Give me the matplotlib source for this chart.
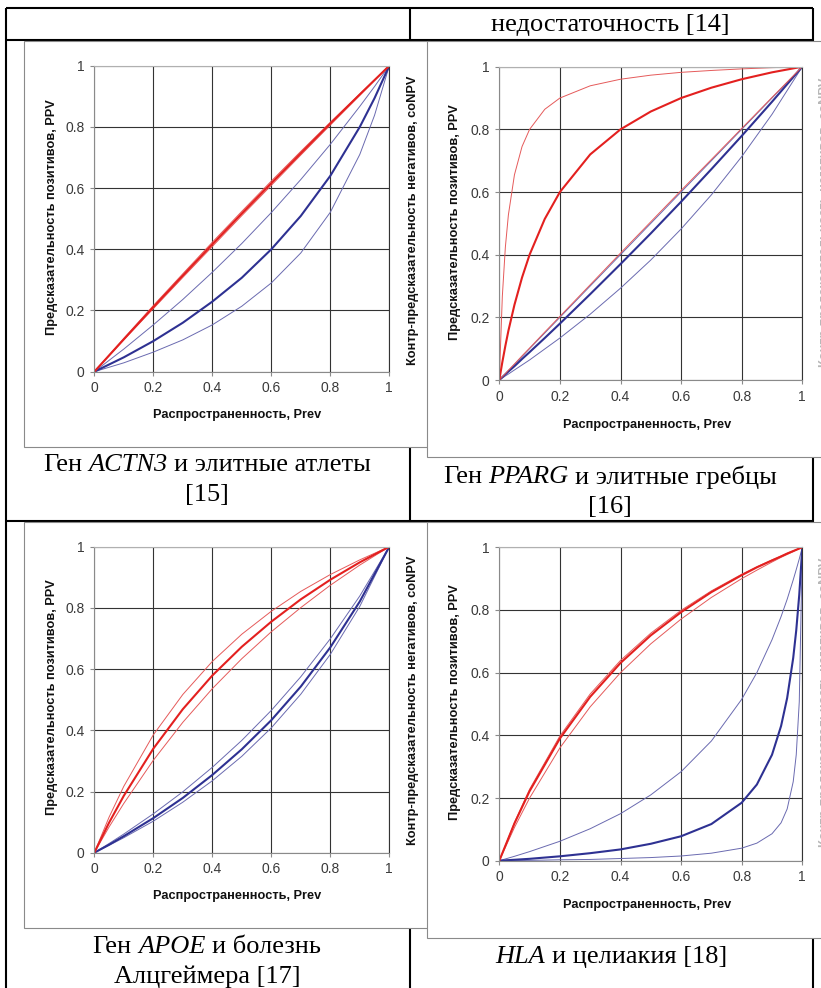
import matplotlib.pyplot as plt
from matplotlib.patches import Rectangle

plt.rcParams['font.family'] = ['Liberation Sans', 'DejaVu Sans']

W, H = 821, 988

###############
# Data (prevalence -> PPV / coNPV)
ticks = [0, 0.2, 0.4, 0.6, 0.8, 1]
tick_labels = ['0', '0.2', '0.4', '0.6', '0.8', '1']

# ACTN3
prev1 = [0, 0.1, 0.2, 0.3, 0.4, 0.5, 0.6, 0.7, 0.8, 0.9, 0.95, 1]
actn3_ppv = [0, 0.106, 0.211, 0.314, 0.416, 0.517, 0.616, 0.714, 0.811, 0.906, 0.953, 1]
actn3_ppv_lo = [0, 0.104, 0.206, 0.308, 0.409, 0.510, 0.609, 0.708, 0.806, 0.903, 0.952, 1]
actn3_ppv_hi = [0, 0.109, 0.216, 0.320, 0.423, 0.524, 0.623, 0.720, 0.815, 0.908, 0.954, 1]
actn3_conpv = [0, 0.047, 0.100, 0.160, 0.229, 0.307, 0.400, 0.509, 0.640, 0.800, 0.894, 1]
actn3_conpv_hi = [0, 0.074, 0.153, 0.236, 0.325, 0.419, 0.520, 0.628, 0.743, 0.867, 0.932, 1]
actn3_conpv_lo = [0, 0.029, 0.064, 0.104, 0.153, 0.214, 0.290, 0.388, 0.521, 0.710, 0.838, 1]

# PPARG
prev2 = [0, 0.01, 0.02, 0.03, 0.05, 0.075, 0.1, 0.15, 0.2, 0.3, 0.4, 0.5, 0.6, 0.7, 0.8, 0.9, 1]
pparg_ppv = [0, 0.057, 0.109, 0.157, 0.240, 0.327, 0.400, 0.514, 0.600, 0.720, 0.800, 0.857, 0.900, 0.933, 0.960, 0.982, 1]
pparg_ppv_hi = [0, 0.267, 0.424, 0.527, 0.655, 0.745, 0.800, 0.864, 0.900, 0.939, 0.960, 0.973, 0.982, 0.988, 0.993, 0.997, 1]
pparg_ppv_lo = [0, 0.010, 0.020, 0.031, 0.051, 0.077, 0.102, 0.153, 0.203, 0.304, 0.405, 0.505, 0.605, 0.704, 0.803, 0.902, 1]
pparg_conpv = [0, 0.009, 0.018, 0.027, 0.044, 0.067, 0.089, 0.134, 0.180, 0.274, 0.370, 0.468, 0.569, 0.673, 0.779, 0.888, 1]
pparg_conpv_hi = [0, 0.010, 0.020, 0.030, 0.050, 0.075, 0.100, 0.150, 0.200, 0.300, 0.400, 0.500, 0.600, 0.700, 0.800, 0.900, 1]
pparg_conpv_lo = [0, 0.006, 0.013, 0.019, 0.032, 0.048, 0.064, 0.099, 0.134, 0.210, 0.293, 0.383, 0.482, 0.591, 0.713, 0.848, 1]

# APOE
prev3 = [0, 0.05, 0.1, 0.2, 0.3, 0.4, 0.5, 0.6, 0.7, 0.8, 0.9, 1]
apoe_ppv = [0, 0.098, 0.186, 0.340, 0.469, 0.579, 0.673, 0.755, 0.828, 0.892, 0.949, 1]
apoe_ppv_hi = [0, 0.116, 0.217, 0.385, 0.517, 0.625, 0.714, 0.789, 0.854, 0.909, 0.957, 1]
apoe_ppv_lo = [0, 0.084, 0.161, 0.302, 0.426, 0.536, 0.634, 0.722, 0.801, 0.874, 0.940, 1]
apoe_conpv = [0, 0.026, 0.054, 0.113, 0.179, 0.254, 0.338, 0.433, 0.543, 0.671, 0.821, 1]
apoe_conpv_hi = [0, 0.030, 0.061, 0.127, 0.199, 0.279, 0.367, 0.465, 0.575, 0.699, 0.839, 1]
apoe_conpv_lo = [0, 0.024, 0.049, 0.103, 0.165, 0.235, 0.315, 0.408, 0.518, 0.648, 0.805, 1]

# HLA
prev4 = [0, 0.05, 0.1, 0.2, 0.3, 0.4, 0.5, 0.6, 0.7, 0.8, 0.85, 0.9, 0.93, 0.95, 0.97, 0.98, 0.99, 1]
hla_ppv = [0, 0.119, 0.222, 0.390, 0.523, 0.631, 0.719, 0.793, 0.857, 0.911, 0.936, 0.958, 0.971, 0.980, 0.988, 0.992, 0.996, 1]
hla_ppv_hi = [0, 0.122, 0.228, 0.398, 0.532, 0.639, 0.726, 0.799, 0.861, 0.914, 0.938, 0.960, 0.972, 0.981, 0.989, 0.992, 0.996, 1]
hla_ppv_lo = [0, 0.106, 0.200, 0.360, 0.491, 0.600, 0.692, 0.771, 0.840, 0.900, 0.927, 0.953, 0.968, 0.977, 0.986, 0.991, 0.996, 1]
hla_conpv = [0, 0.003, 0.006, 0.014, 0.024, 0.036, 0.054, 0.078, 0.117, 0.185, 0.243, 0.338, 0.430, 0.519, 0.647, 0.735, 0.849, 1]
hla_conpv_hi = [0, 0.014, 0.029, 0.062, 0.102, 0.150, 0.210, 0.284, 0.382, 0.515, 0.600, 0.705, 0.779, 0.834, 0.896, 0.929, 0.963, 1]
hla_conpv_lo = [0, 0.0005, 0.001, 0.003, 0.004, 0.007, 0.010, 0.015, 0.024, 0.040, 0.056, 0.086, 0.121, 0.165, 0.252, 0.338, 0.507, 1]

ylab = 'Предсказательность позитивов, PPV'
xlab = 'Распространенность, Prev'
ylab2 = 'Контр-предсказательность негативов, coNPV'

RED, RED_T = '#e3201f', '#e55a5a'
BLUE, BLUE_T = '#2e3192', '#6a6ab0'

###############
fig = plt.figure(figsize=(W / 100, H / 100), dpi=100)

# background in pixel coords: table lines, chart frames, captions
bg = fig.add_axes([0, 0, 1, 1])
bg.set_xlim(0, W)
bg.set_ylim(H, 0)
bg.axis('off')

lk = dict(color='black', lw=1.5, solid_capstyle='butt', zorder=2)
bg.plot([6, 813], [8, 8], **lk)
bg.plot([6, 813], [40, 40], **lk)
bg.plot([6, 813], [521, 521], **lk)
bg.plot([6, 6], [8, H], **lk)
bg.plot([410, 410], [8, H], **lk)
bg.plot([813, 813], [8, H], **lk)

# chart frames (pasted Excel charts), they sit over the table lines
for (x0, y0, w, h) in [(24, 41, 406, 406), (427, 41, 420, 416),
                       (24, 522, 406, 406), (427, 522, 420, 416)]:
    bg.add_patch(Rectangle((x0, y0), w, h, fc='white', ec='#8a8a8a', lw=0.8, zorder=2.5))

cap = dict(family=['Liberation Serif', 'DejaVu Serif'], size=19, va='center', zorder=4)
renderer = fig.canvas.get_renderer()


def caption(cx, cy, parts):
    # parts: (text, italic) joined by single spaces, centred on cx
    sp = (bg.text(0, 0, 'н н', **cap).get_window_extent(renderer).width
          - bg.text(0, 0, 'нн', **cap).get_window_extent(renderer).width)
    for t in bg.texts[-2:]:
        t.remove()
    texts = [bg.text(0, cy, s, style='italic' if it else 'normal', ha='left', **cap)
             for s, it in parts]
    widths = [t.get_window_extent(renderer).width for t in texts]
    x = cx - (sum(widths) + sp * (len(parts) - 1)) / 2
    for t, w in zip(texts, widths):
        t.set_x(x)
        x += w + sp


caption(610, 25, [('недостаточность [14]', False)])
caption(207, 465, [('Ген', False), ('ACTN3', True), ('и элитные атлеты', False)])
caption(207, 495, [('[15]', False)])
caption(610, 477, [('Ген', False), ('PPARG', True), ('и элитные гребцы', False)])
caption(610, 507, [('[16]', False)])
caption(207, 947, [('Ген', False), ('APOE', True), ('и болезнь', False)])
caption(207, 977, [('Алцгеймера [17]', False)])
caption(611, 957, [('HLA', True), ('и целиакия [18]', False)])

lab = dict(fontweight='bold', size=9.2, ha='center', va='center', color='#111111', zorder=4)
bg.text(52, 217, ylab, rotation=90, **lab)
bg.text(237, 415, xlab, **lab)
bg.text(413, 220, ylab2, rotation=90, **lab)
bg.text(455, 222, ylab, rotation=90, **lab)
bg.text(647, 425, xlab, **lab)
bg.text(52, 697, ylab, rotation=90, **lab)
bg.text(237, 896, xlab, **lab)
bg.text(413, 700, ylab2, rotation=90, **lab)
bg.text(455, 702, ylab, rotation=90, **lab)
bg.text(647, 905, xlab, **lab)
# the next chart's label, cut by the page edge
faint = dict(lab, color='#b8b8b8')
bg.text(825, 222, ylab2, rotation=90, **faint)
bg.text(825, 702, ylab2, rotation=90, **faint)


def chart(left, top, right, bottom, prev, ppv, ppv_lo, ppv_hi, conpv, conpv_lo, conpv_hi):
    ax = fig.add_axes([left / W, 1 - bottom / H, (right - left) / W, (bottom - top) / H])
    ax.set_xlim(0, 1)
    ax.set_ylim(0, 1)
    ax.set_xticks(ticks)
    ax.set_yticks(ticks)
    ax.set_xticklabels(tick_labels)
    ax.set_yticklabels(tick_labels)
    ax.grid(True, color='#333333', lw=0.8)
    ax.set_axisbelow(True)
    ax.spines['left'].set_color('#8a8a8a')
    ax.spines['bottom'].set_color('#8a8a8a')
    ax.spines['top'].set_color('#b0b0b0')
    ax.spines['right'].set_color('#333333')
    for s in ax.spines.values():
        s.set_linewidth(0.8)
    ax.tick_params(direction='out', length=3, width=0.8, color='#8a8a8a',
                   labelsize=10, labelcolor='#3a3a3a', pad=4)
    # blue: coNPV with its bounds, red: PPV with its bounds
    ax.plot(prev, conpv_lo, color=BLUE_T, lw=0.7)
    ax.plot(prev, conpv_hi, color=BLUE_T, lw=0.7)
    ax.plot(prev, conpv, color=BLUE, lw=1.5)
    ax.plot(prev, ppv_lo, color=RED_T, lw=0.7)
    ax.plot(prev, ppv_hi, color=RED_T, lw=0.7)
    ax.plot(prev, ppv, color=RED, lw=1.5)
    return ax


chart(94.3, 65.7, 389.3, 371.7, prev1, actn3_ppv, actn3_ppv_lo, actn3_ppv_hi,
      actn3_conpv, actn3_conpv_lo, actn3_conpv_hi)
chart(499.3, 66.7, 802.3, 380.0, prev2, pparg_ppv, pparg_ppv_lo, pparg_ppv_hi,
      pparg_conpv, pparg_conpv_lo, pparg_conpv_hi)
chart(94.3, 546.7, 389.3, 852.7, prev3, apoe_ppv, apoe_ppv_lo, apoe_ppv_hi,
      apoe_conpv, apoe_conpv_lo, apoe_conpv_hi)
chart(499.3, 547.3, 802.3, 860.7, prev4, hla_ppv, hla_ppv_lo, hla_ppv_hi,
      hla_conpv, hla_conpv_lo, hla_conpv_hi)

fig.savefig('out.png', dpi=100)
